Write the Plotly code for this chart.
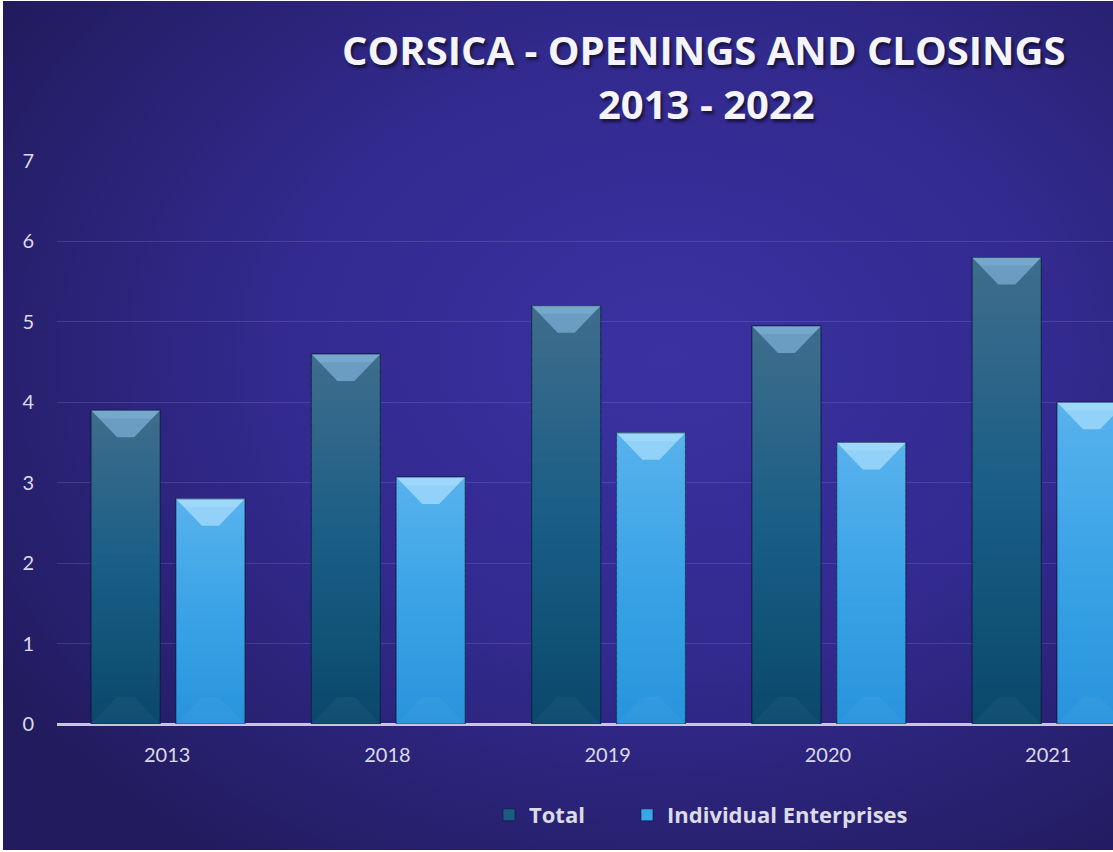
import base64
import plotly.graph_objects as go

# ---- data ----
years = ["2013", "2018", "2019", "2020", "2021"]
total = [3.9, 4.6, 5.2, 4.95, 5.8]
individual = [2.8, 3.07, 3.62, 3.5, 4.0]

title_line1 = "CORSICA - OPENINGS AND CLOSINGS"
title_line2 = "2013 - 2022"

# ---- geometry of the figure ----
W, H = 1113, 852
ML, MR, MT, MB = 57, 0, 161, 128
PW, PH = W - ML - MR, H - MT - MB
Y_MAX = 7
X_RANGE = [-0.5, 4.294]

BAR_W = 0.313
OFF_TOTAL = -0.345
OFF_IND = 0.04

FONT = "Lato"
TITLE_FONT = "Open Sans"
TXT = "#dcdbe8"


def hex2rgb(h):
    h = h.lstrip("#")
    return tuple(int(h[i:i + 2], 16) for i in (0, 2, 4))


def mix(c1, c2, t):
    a, b = hex2rgb(c1), hex2rgb(c2)
    return "rgb({},{},{})".format(*[round(a[i] + (b[i] - a[i]) * t) for i in range(3)])


# background: radial glow on a deep indigo field
svg = f"""<svg xmlns="http://www.w3.org/2000/svg" width="{W}" height="{H}">
<defs><radialGradient id="g" cx="0.6" cy="0.42" r="0.72">
<stop offset="0" stop-color="#3a32a2"/>
<stop offset="0.5" stop-color="#322a8e"/>
<stop offset="1" stop-color="#221b5e"/>
</radialGradient></defs>
<rect width="{W}" height="{H}" fill="url(#g)"/></svg>"""
bg_src = "data:image/svg+xml;base64," + base64.b64encode(svg.encode()).decode()


def px_to_paper_x(px):
    return (px - ML) / PW


def px_to_paper_y(py):
    return (H - MB - py) / PH


fig = go.Figure()

series = [
    ("Total", total, OFF_TOTAL, "#1b5c82", "legend", 489,
     dict(bottom="#0a486b", mid="#1a5e86", top="#3f6d8c", cap_top="#7eb0d4", cap_bot="#5386ad")),
    ("Individual Enterprises", individual, OFF_IND, "#3aa5e8", "legend2", 627,
     dict(bottom="#2894dc", mid="#3aa3e6", top="#58b2ed", cap_top="#a6dcfc", cap_bot="#7cc6f4")),
]

shapes = []
cap_h = 27 / (PH / Y_MAX)          # bevel depth in data units
flat = 17 / (PW / (X_RANGE[1] - X_RANGE[0]))  # flat bottom of the bevel face

legend_font = dict(size=22, color=TXT, family="Open Sans", weight="bold")
legends = {}

for name, vals, off, col, leg, leg_x, sh in series:
    fig.add_trace(go.Bar(
        x=years, y=vals, name=name, width=BAR_W, offset=off, legend=leg,
        marker=dict(color=col, line=dict(color="rgba(10,20,50,0.6)", width=1)),
    ))
    legends[leg] = dict(orientation="h", xref="paper", yref="paper",
                        x=px_to_paper_x(leg_x), y=px_to_paper_y(815),
                        xanchor="left", yanchor="middle", font=legend_font,
                        bgcolor="rgba(0,0,0,0)", itemclick=False, itemdoubleclick=False)
    for i, v in enumerate(vals):
        x0, x1 = i + off, i + off + BAR_W
        xc = (x0 + x1) / 2
        n = 48
        # vertical shading of the bar body
        for k in range(n):
            y0 = v * k / n
            y1 = v * (k + 1) / n + v / n * 0.5
            t = (k + 0.5) / n
            if t < 0.5:
                c = mix(sh["bottom"], sh["mid"], t / 0.5)
            else:
                c = mix(sh["mid"], sh["top"], (t - 0.5) / 0.5)
            shapes.append(dict(type="rect", xref="x", yref="y", x0=x0, x1=x1,
                               y0=y0, y1=min(y1, v),
                               fillcolor=c, line=dict(width=0), layer="above"))
        # bevel faces at the top of the bar
        shapes.append(dict(
            type="path", xref="x", yref="y",
            path=f"M{x0},{v} L{x1},{v} L{xc + flat / 2},{v - cap_h} L{xc - flat / 2},{v - cap_h} Z",
            fillcolor=mix(sh["cap_top"], sh["cap_bot"], 0.45), line=dict(width=0), layer="above"))
        shapes.append(dict(
            type="path", xref="x", yref="y",
            path=f"M{x0},{v} L{x1},{v} L{x1 - BAR_W * 0.12},{v - cap_h * 0.3} L{x0 + BAR_W * 0.12},{v - cap_h * 0.3} Z",
            fillcolor=sh["cap_top"], opacity=0.55, line=dict(width=0), layer="above"))
        # soft bevel at the foot of the bar
        shapes.append(dict(
            type="path", xref="x", yref="y",
            path=f"M{x0},0 L{x1},0 L{xc + flat / 2},{cap_h} L{xc - flat / 2},{cap_h} Z",
            fillcolor="rgba(255,255,255,0.035)", line=dict(width=0), layer="above"))
        # dark rim
        shapes.append(dict(type="rect", xref="x", yref="y", x0=x0, x1=x1, y0=0, y1=v,
                           fillcolor="rgba(0,0,0,0)",
                           line=dict(color="rgba(8,18,45,0.45)", width=1.2), layer="above"))

title_font = dict(family=TITLE_FONT, size=40, color="#f4f4fa", weight="bold",
                  shadow="2px 3px 3px rgba(0,0,0,0.55)")

fig.update_layout(
    width=W, height=H,
    margin=dict(l=ML, r=MR, t=MT, b=MB, pad=0),
    paper_bgcolor="#ffffff",
    plot_bgcolor="rgba(0,0,0,0)",
    barmode="group",
    showlegend=True,
    shapes=shapes,
    images=[dict(source=bg_src, xref="paper", yref="paper",
                 x=px_to_paper_x(3), y=px_to_paper_y(1),
                 sizex=(W - 3) / PW, sizey=(H - 3) / PH,
                 xanchor="left", yanchor="top", sizing="stretch", layer="below")],
    font=dict(family=FONT, color=TXT, size=19),
    xaxis=dict(type="category", range=X_RANGE, showgrid=False, showline=False,
               ticks="", tickfont=dict(size=20, color=TXT, family=FONT),
               ticklabelstandoff=17, fixedrange=True),
    yaxis=dict(range=[0, Y_MAX], dtick=1, showgrid=True,
               gridcolor="rgba(160,150,230,0.22)", gridwidth=1,
               zeroline=True, zerolinecolor="#c9c6da", zerolinewidth=2.5,
               showline=False, ticks="", tickfont=dict(size=20, color=TXT, family=FONT),
               ticklabelstandoff=22, fixedrange=True),
    legend=legends["legend"],
    legend2=legends["legend2"],
    annotations=[
        dict(text=title_line1, xref="paper", yref="paper",
             x=px_to_paper_x(704), y=px_to_paper_y(50), xanchor="center", yanchor="middle",
             showarrow=False, font=title_font),
        dict(text=title_line2, xref="paper", yref="paper",
             x=px_to_paper_x(706), y=px_to_paper_y(103), xanchor="center", yanchor="middle",
             showarrow=False, font=title_font),
    ],
)

fig.write_html("out.html")
